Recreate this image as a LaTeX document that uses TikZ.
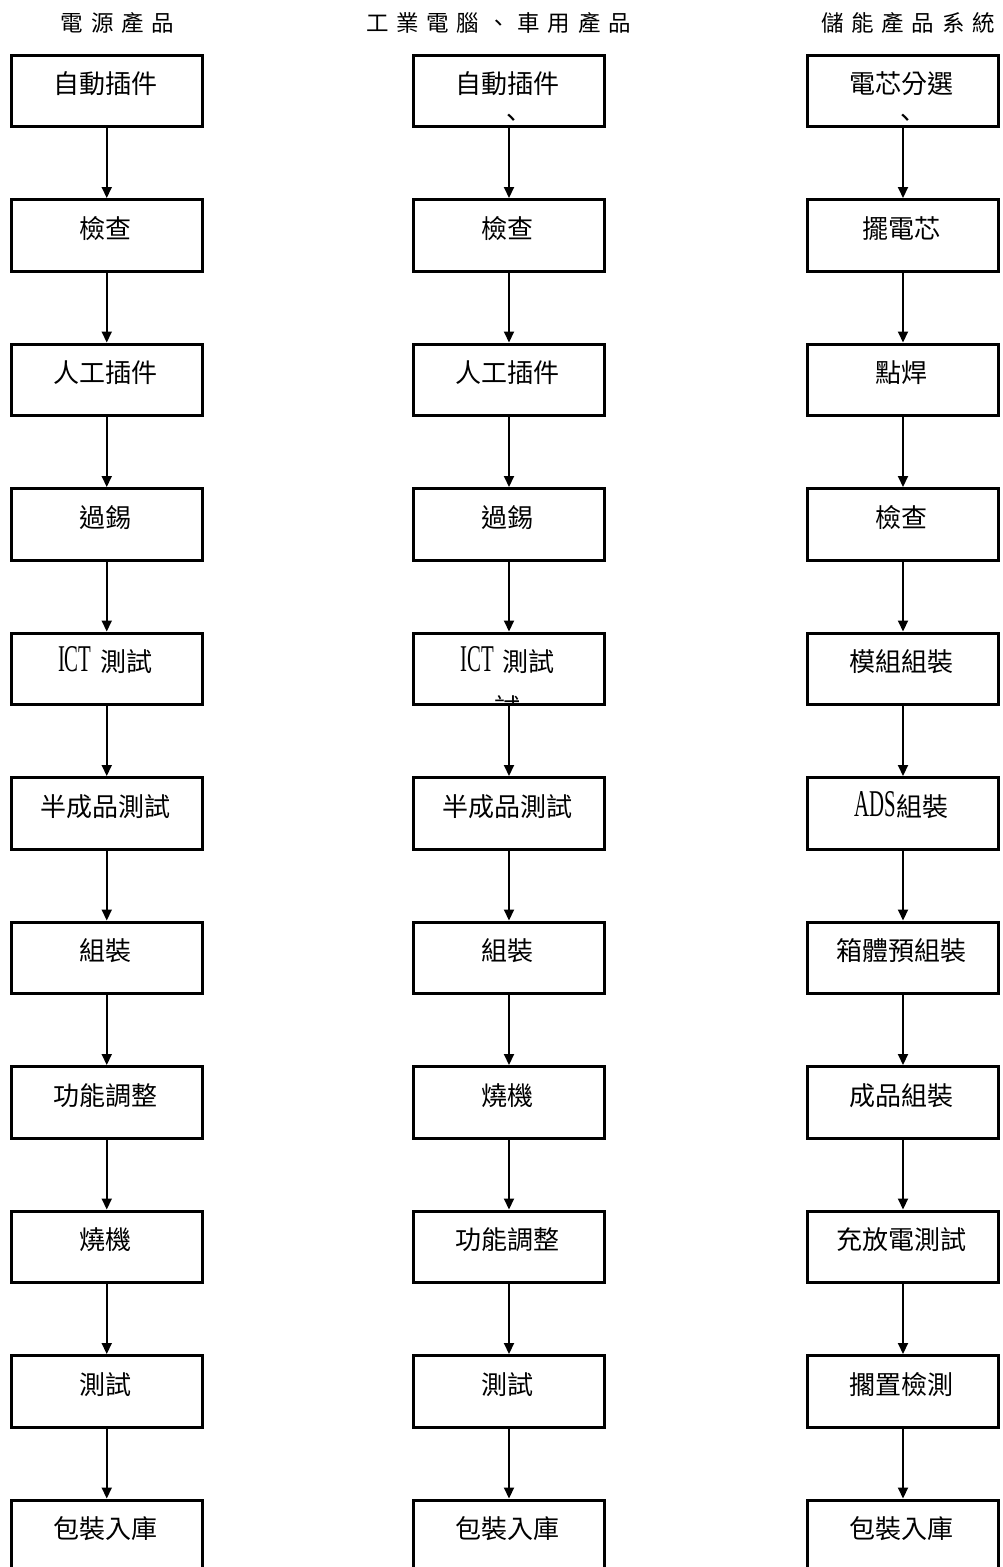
\documentclass[tikz,border=0pt]{standalone}
\usepackage{fontspec}
\setmainfont{Noto Sans CJK TC}
\newfontfamily\latinf[FakeStretch=0.55]{Liberation Serif}
\usetikzlibrary{arrows.meta}
\newcommand\hsp{\hspace{7.8pt}}
\newcommand\lat[1]{{\fontsize{37.8pt}{40pt}\latinf #1}}
\begin{document}
\begin{tikzpicture}[x=1pt,y=-1pt,
  stepbox/.style={draw=black, line width=3pt, minimum width=190.5pt, minimum height=71.5pt, inner sep=0pt},
  steptext/.style={anchor=base, inner sep=0pt, font=\fontsize{26pt}{30pt}\selectfont},
  headtext/.style={anchor=base, inner sep=0pt, font=\fontsize{22.5pt}{24pt}\selectfont},
  cliptext/.style={anchor=north, inner sep=0pt, font=\fontsize{26pt}{30pt}\selectfont},
  flow/.style={draw=black, line width=2pt, -{Triangle[length=11pt,width=10pt]}}]
\useasboundingbox (0,0) rectangle (1003,1567);
\fill[white] (0,0) rectangle (1003,1567);
% headers
\node[headtext] (h1) at (117.5,31.5) {電\hsp 源\hsp 產\hsp 品};
\node[headtext] (h2) at (498.5,31.5) {工\hsp 業\hsp 電\hsp 腦\hsp 、\hsp 車\hsp 用\hsp 產\hsp 品};
\node[headtext] (h3) at (908,31.5) {儲\hsp 能\hsp 產\hsp 品\hsp 系\hsp 統};
% columns
\foreach \t [count=\i from 0] in {自動插件,檢查,人工插件,過錫,{\lat{ICT}\hspace{9pt}測試},半成品測試,組裝,功能調整,燒機,測試,包裝入庫}{
  \node[stepbox] (a\i) at (106.75,90.75+\i*144.5) {};
  \path (a\i.north) ++(-1.5,40) node[steptext] (ta\i) {\t};
}
\foreach \t [count=\i from 0] in {自動插件,檢查,人工插件,過錫,{\lat{ICT}\hspace{9pt}測試},半成品測試,組裝,燒機,功能調整,測試,包裝入庫}{
  \node[stepbox] (b\i) at (509,90.75+\i*144.5) {};
  \path (b\i.north) ++(-1.5,40) node[steptext] (tb\i) {\t};
}
\foreach \t [count=\i from 0] in {電芯分選,擺電芯,點焊,檢查,模組組裝,{\lat{ADS}組裝},箱體預組裝,成品組裝,充放電測試,擱置檢測,包裝入庫}{
  \node[stepbox] (c\i) at (903,90.75+\i*144.5) {};
  \path (c\i.north) ++(-1.5,40) node[steptext] (tc\i) {\t};
}
% arrows
\foreach \i [evaluate=\i as \j using int(\i+1)] in {0,...,9}{
  \draw[flow] (a\i.south) -- (a\j.north);
  \draw[flow] (b\i.south) -- (b\j.north);
  \draw[flow] (c\i.south) -- (c\j.north);
}
% clipped overflow text
\begin{scope}
  \clip (413,57) rectangle (605,122);
  \node[cliptext] (xb0) at (511,114) {、};
\end{scope}
\begin{scope}
  \clip (807,57) rectangle (999,122);
  \node[cliptext] (xc0) at (905,114) {、};
\end{scope}
\begin{scope}
  \clip (413,635) rectangle (605,702);
  \node[cliptext] (xb4) at (507,695) {試};
\end{scope}
\end{tikzpicture}
\end{document}
